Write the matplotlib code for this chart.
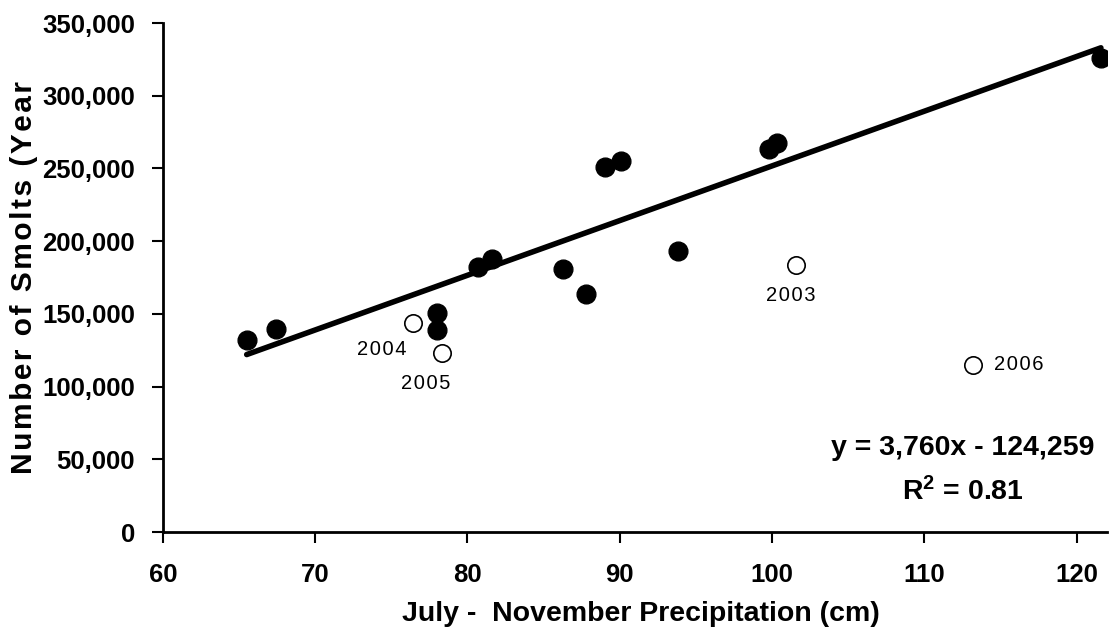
import matplotlib
matplotlib.use("Agg")
import matplotlib.pyplot as plt
from matplotlib.ticker import FuncFormatter

# July-November precipitation (cm) and smolt counts, years used in the fit
precip_fit = [65.5, 67.4, 78.0, 78.0, 80.7, 81.6, 86.3, 87.8, 89.0, 90.1,
              93.8, 99.8, 100.3, 121.6]
smolts_fit = [132000, 139600, 150600, 139000, 182500, 187600, 180700, 163500,
              250800, 255400, 193300, 263400, 267700, 325800]

# Years excluded from the fit
excluded_years = ["2004", "2005", "2003", "2006"]
precip_excl = [76.4, 78.35, 101.6, 113.2]
smolts_excl = [143700, 122900, 183600, 114900]

# Regression coefficients
slope = 3760
intercept = -124259
r_squared = 0.81

x_ticks = [60, 70, 80, 90, 100, 110, 120]
y_ticks = [0, 50000, 100000, 150000, 200000, 250000, 300000, 350000]

plt.rcParams["font.family"] = ["Liberation Sans", "DejaVu Sans"]
plt.rcParams["mathtext.fontset"] = "custom"
plt.rcParams["mathtext.rm"] = "Liberation Sans"
plt.rcParams["mathtext.bf"] = "Liberation Sans:bold"

fig = plt.figure(figsize=(11.1, 6.27), dpi=100)
ax = fig.add_axes([0.1468, 0.1515, 0.8505, 0.8118])

# Trend line across the range of fitted years
x0, x1 = min(precip_fit), max(precip_fit)
ax.plot([x0, x1], [slope * x0 + intercept, slope * x1 + intercept],
        color="black", lw=4, solid_capstyle="round", zorder=2)

ax.plot(precip_fit, smolts_fit, "o", color="black", ms=13.5, zorder=3)
ax.plot(precip_excl, smolts_excl, "o", mfc="white", mec="black", mew=1.2,
        ms=12.5, zorder=3)

# Year labels next to the excluded points (offsets in points)
offsets = {"2004": (-22, -19, "center"), "2005": (-12, -22, "center"),
           "2003": (-4, -22, "center"), "2006": (15, 0, "left")}
for yr, px, py in zip(excluded_years, precip_excl, smolts_excl):
    dx, dy, ha = offsets[yr]
    ax.annotate("\u200a".join(yr), (px, py), xytext=(dx, dy),
                textcoords="offset points", ha=ha, va="center",
                fontsize=14.5, color="black")

ax.set_xlim(60, 122)
ax.set_ylim(0, 350000)
ax.set_xticks(x_ticks)
ax.set_yticks(y_ticks)
ax.yaxis.set_major_formatter(FuncFormatter(lambda v, p: f"{v:,.0f}"))

for side in ("top", "right"):
    ax.spines[side].set_visible(False)
for side in ("left", "bottom"):
    ax.spines[side].set_linewidth(2)

ax.tick_params(axis="both", direction="out", length=8, width=1.5,
               labelsize=18.5)
ax.tick_params(axis="y", pad=12)
ax.tick_params(axis="x", pad=14)
for lbl in ax.get_xticklabels() + ax.get_yticklabels():
    lbl.set_fontweight("bold")

ax.set_xlabel("July -  November Precipitation (cm)", fontsize=20.5,
              fontweight="bold")
ax.xaxis.set_label_coords(0.506, -0.135)
ax.set_ylabel("\u200a".join("Number of Smolts (Year"), fontsize=21.5,
              fontweight="bold")
ax.yaxis.set_label_coords(-0.132, 0.5)

ax.text(0.847, 0.165, f"y = {slope:,}x - {abs(intercept):,}",
        transform=ax.transAxes, ha="center", va="center",
        fontsize=20.5, fontweight="bold")
ax.text(0.847, 0.0786, r"$\mathbf{R^2}$" + f" = {r_squared:.2f}",
        transform=ax.transAxes, ha="center", va="center",
        fontsize=20.5, fontweight="bold")

fig.savefig("out.png", dpi=100)
